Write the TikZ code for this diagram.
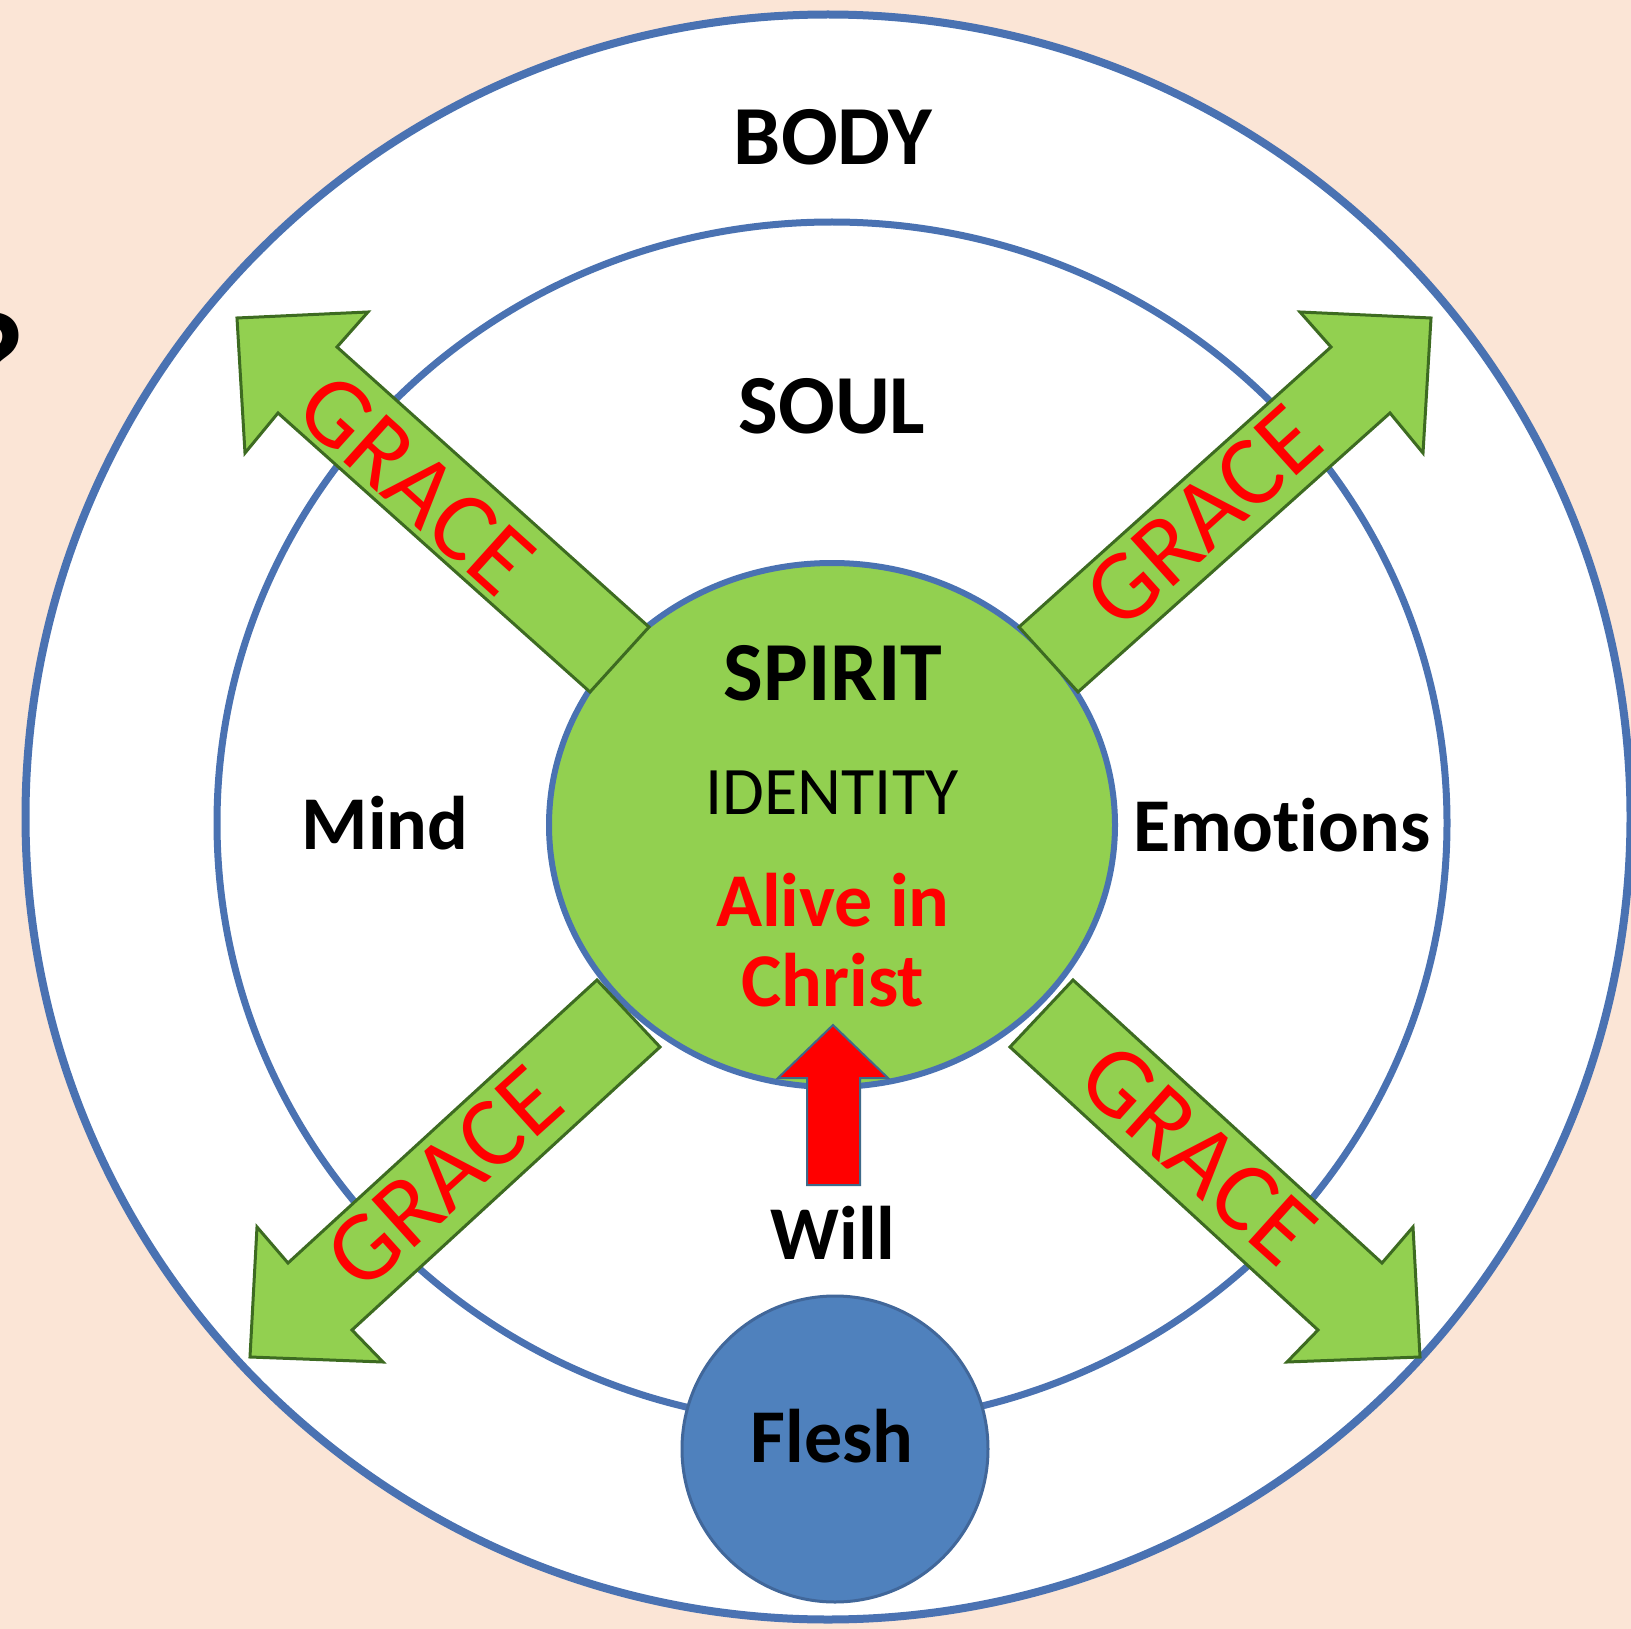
\documentclass[tikz,border=0pt]{standalone}
\usepackage{fontspec}
\setmainfont{Carlito}[Ligatures=NoCommon]
\usetikzlibrary{shapes.geometric}
\definecolor{bgpeach}{HTML}{FBE5D6}
\definecolor{ringblue}{HTML}{4A72B2}
\definecolor{spiritgreen}{HTML}{92D050}
\definecolor{arrowedge}{HTML}{3D6B21}
\definecolor{fleshblue}{HTML}{4F81BD}
\definecolor{fleshedge}{HTML}{41679A}
\definecolor{gracered}{HTML}{FF0000}
\definecolor{willedge}{HTML}{3E6A8A}
\begin{document}
\begin{tikzpicture}[x=1pt,y=-1pt,
  ringline/.style={draw=ringblue},
  lbl/.style={font=\bfseries\fontsize{76}{80}\selectfont, text=black, inner sep=0pt},
  biglbl/.style={font=\bfseries\fontsize{84}{88}\selectfont, text=black, inner sep=0pt},
  gracetext/.style={font=\fontsize{100}{100}\selectfont, text=gracered, inner sep=0pt},
  gracearrow/.style={fill=spiritgreen, draw=arrowedge, line width=3pt, line join=miter},
  willarrow/.style={fill=gracered, draw=willedge, line width=2pt, line join=miter}
]
\fill[bgpeach] (0,0) rectangle (1631,1629);
\useasboundingbox (0,0) rectangle (1631,1629);
% partial question mark at the left edge
\node[font=\bfseries\fontsize{140}{140}\selectfont, anchor=east, inner sep=0pt] (qmark) at (26,362) {?};
% rings
\node[circle, ringline, fill=white, line width=8pt, minimum size=1605pt, inner sep=0pt] (body) at (828,817) {};
\node[ellipse, ringline, fill=white, line width=7pt, minimum width=1230pt, minimum height=1202pt, inner sep=0pt] (soul) at (832,823) {};
\node[circle, draw=fleshedge, fill=fleshblue, line width=3pt, minimum size=306pt, inner sep=0pt] (flesh) at (835,1449) {};
\node[ellipse, ringline, fill=spiritgreen, line width=6pt, minimum width=566pt, minimum height=524pt, inner sep=0pt] (spirit) at (832,825) {};
% grace arrows
\draw[gracearrow] (649,627) -- (337,347) -- (368,312) -- (237,318) -- (245,453) -- (278,413) -- (590,692) -- cycle;
\draw[gracearrow] (1019,627) -- (1331,347) -- (1300,312) -- (1431,318) -- (1423,453) -- (1390,413) -- (1078,692) -- cycle;
\draw[gracearrow] (597,980) -- (288,1263) -- (257,1227) -- (250,1357) -- (383,1362) -- (352,1330) -- (660,1047) -- cycle;
\draw[gracearrow] (1073,980) -- (1382,1263) -- (1413,1227) -- (1420,1357) -- (1287,1362) -- (1318,1330) -- (1010,1047) -- cycle;
% will arrow
\draw[willarrow] (807,1185) -- (807,1078) -- (778,1078) -- (833,1025) -- (888,1078) -- (860,1078) -- (860,1185) -- cycle;
% texts
\node[gracetext, rotate=-42] (g1) at (416,484) {GRACE};
\node[gracetext, rotate=42] (g2) at (1203,517) {GRACE};
\node[gracetext, rotate=42] (g3) at (444,1178) {GRACE};
\node[gracetext, rotate=-42] (g4) at (1198,1154) {GRACE};
\node[biglbl] (bodyt) at (833,137) {BODY};
\node[biglbl] (soult) at (832,406) {SOUL};
\node[biglbl] (spiritt) at (833,673) {SPIRIT};
\node[font=\fontsize{68}{68}\selectfont, inner sep=0pt] (ident) at (832,793) {IDENTITY};
\node[lbl, text=gracered] (alive) at (833,900) {Alive in};
\node[lbl, text=gracered] (christ) at (833,980) {Christ};
\node[lbl] (mind) at (385,823) {Mind};
\node[lbl] (emo) at (1282,825) {Emotions};
\node[lbl] (will) at (833,1233) {Will};
\node[lbl] (flesht) at (832,1436) {Flesh};
\end{tikzpicture}
\end{document}
